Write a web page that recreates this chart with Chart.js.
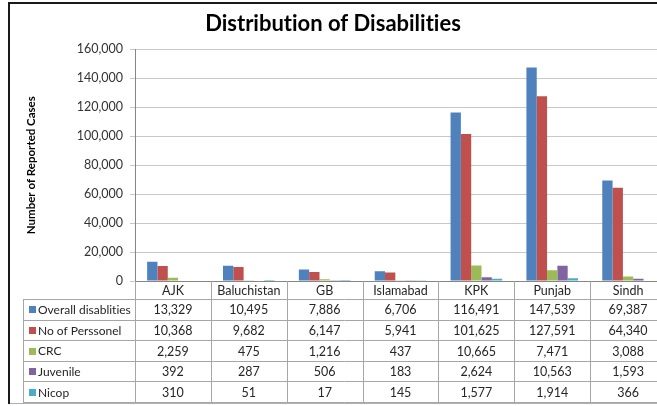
<!DOCTYPE html>
<html><head><meta charset="utf-8">
<script src="https://cdn.jsdelivr.net/npm/chart.js@4/dist/chart.umd.min.js"></script>
<style>
html,body{margin:0;padding:0;overflow:hidden;background:#fff;width:657px;height:406px}
#wrap{position:relative;width:672px;height:406px}
</style></head>
<body><div id="wrap"><canvas id="c" width="672" height="406"></canvas></div>
<script>
const categories = ['AJK','Baluchistan','GB','Islamabad','KPK','Punjab','Sindh'];
const seriesNames = ['Overall disablities','No of Perssonel','CRC','Juvenile','Nicop'];
const overall   = [13329, 10495, 7886, 6706, 116491, 147539, 69387];
const personnel = [10368, 9682, 6147, 5941, 101625, 127591, 64340];
const crc       = [2259, 475, 1216, 437, 10665, 7471, 3088];
const juvenile  = [392, 287, 506, 183, 2624, 10563, 1593];
const nicop     = [310, 51, 17, 145, 1577, 1914, 366];
const yTicks    = [0, 20000, 40000, 60000, 80000, 100000, 120000, 140000, 160000];
const colors    = ['#4F81BD', '#C0504D', '#9BBB59', '#8064A2', '#4BACC6'];

const seriesValues = [overall, personnel, crc, juvenile, nicop];
const FONT = 'Lato, "Open Sans", sans-serif';
const fmt = v => v.toLocaleString('en-US');

const framePlugin = {
  id: 'frame',
  beforeInit(chart) { chart.ctx.textRendering = 'optimizeSpeed'; },
  beforeDraw(chart) {
    const ctx = chart.ctx;
    ctx.textRendering = 'optimizeSpeed';
    ctx.save();
    ctx.fillStyle = '#fff';
    ctx.fillRect(0, 0, chart.width, chart.height);
    ctx.restore();
  },
  afterDraw(chart) {
    const ctx = chart.ctx;
    ctx.save();
    ctx.fillStyle = '#1a1a1a';
    ctx.fillRect(8, 2, chart.width, 2);
    ctx.fillRect(8, 2, 2, 402);
    ctx.fillStyle = '#b0b0b0';
    ctx.fillRect(10, 403, chart.width, 1);
    ctx.restore();
  }
};

const tablePlugin = {
  id: 'dataTable',
  afterDraw(chart) {
    const ctx = chart.ctx, area = chart.chartArea;
    const n = categories.length, w = (area.right - area.left) / n;
    const top = area.bottom, headerH = 18, rowH = 20.6, labelLeft = 23;
    const rows = chart.data.datasets.length;
    const bottom = top + headerH + rowH * rows;
    ctx.save();
    ctx.strokeStyle = '#a6a6a6';
    ctx.lineWidth = 1;
    const line = (x1, y1, x2, y2) => { ctx.beginPath(); ctx.moveTo(x1, y1); ctx.lineTo(x2, y2); ctx.stroke(); };
    for (let i = 0; i <= n; i++) {
      const px = Math.round(area.left + i * w) + 0.5;
      line(px, top, px, bottom);
    }
    line(labelLeft + 0.5, top + headerH, labelLeft + 0.5, bottom);
    for (let r = 0; r <= rows; r++) {
      const y = Math.round(top + headerH + r * rowH) + 0.5;
      line(labelLeft, y, area.right, y);
    }
    ctx.fillStyle = '#262626';
    ctx.font = '12.5px ' + FONT;
    ctx.textAlign = 'center';
    ctx.textBaseline = 'middle';
    for (let i = 0; i < n; i++) {
      ctx.fillText(chart.data.labels[i], area.left + (i + 0.5) * w, top + headerH / 2 + 1);
    }
    chart.data.datasets.forEach((ds, r) => {
      const cy = top + headerH + (r + 0.5) * rowH + 1;
      ctx.fillStyle = ds.backgroundColor;
      ctx.fillRect(29, Math.round(cy - 4), 7, 7);
      ctx.fillStyle = '#262626';
      ctx.textAlign = 'left';
      ctx.font = '12px ' + FONT;
      ctx.fillText(ds.label, 38, cy);
      ctx.textAlign = 'center';
      ctx.font = '12.5px ' + FONT;
      ds.data.forEach((v, i) => ctx.fillText(fmt(v), area.left + (i + 0.5) * w, cy));
    });
    ctx.restore();
  }
};

new Chart(document.getElementById('c'), {
  type: 'bar',
  data: {
    labels: categories,
    datasets: seriesNames.map((name, i) => ({
      label: name,
      data: seriesValues[i],
      backgroundColor: colors[i],
      borderWidth: 0,
      categoryPercentage: 0.68,
      barPercentage: 1
    }))
  },
  options: {
    responsive: false,
    animation: false,
    layout: { padding: { left: 0, right: 6, top: 0, bottom: 0 } },
    plugins: {
      legend: { display: false },
      tooltip: { enabled: false },
      title: {
        display: true,
        text: 'Distribution of Disabilities',
        color: '#000',
        font: { family: FONT, size: 22, weight: 'bold' },
        padding: { top: 11, bottom: 12 }
      }
    },
    scales: {
      x: {
        ticks: { display: false },
        grid: { display: false },
        border: { color: '#868686' },
        afterFit(s) { s.height = 125; }
      },
      y: {
        min: 0, max: 160000,
        afterBuildTicks(s) { s.ticks = yTicks.map(v => ({ value: v })); },
        ticks: { color: '#333', font: { family: FONT, size: 12.5 }, padding: 7, callback: v => fmt(v) },
        grid: { color: '#c8c8c8', tickLength: 5 },
        border: { color: '#868686' },
        title: {
          display: true, text: 'Number of Reported Cases', color: '#000',
          font: { family: FONT, size: 11.5, weight: 'bold' },
          padding: { top: 24, bottom: 0 }
        },
        afterFit(s) { s.width = 135; }
      }
    }
  },
  plugins: [framePlugin, tablePlugin]
});
</script>
</body></html>
